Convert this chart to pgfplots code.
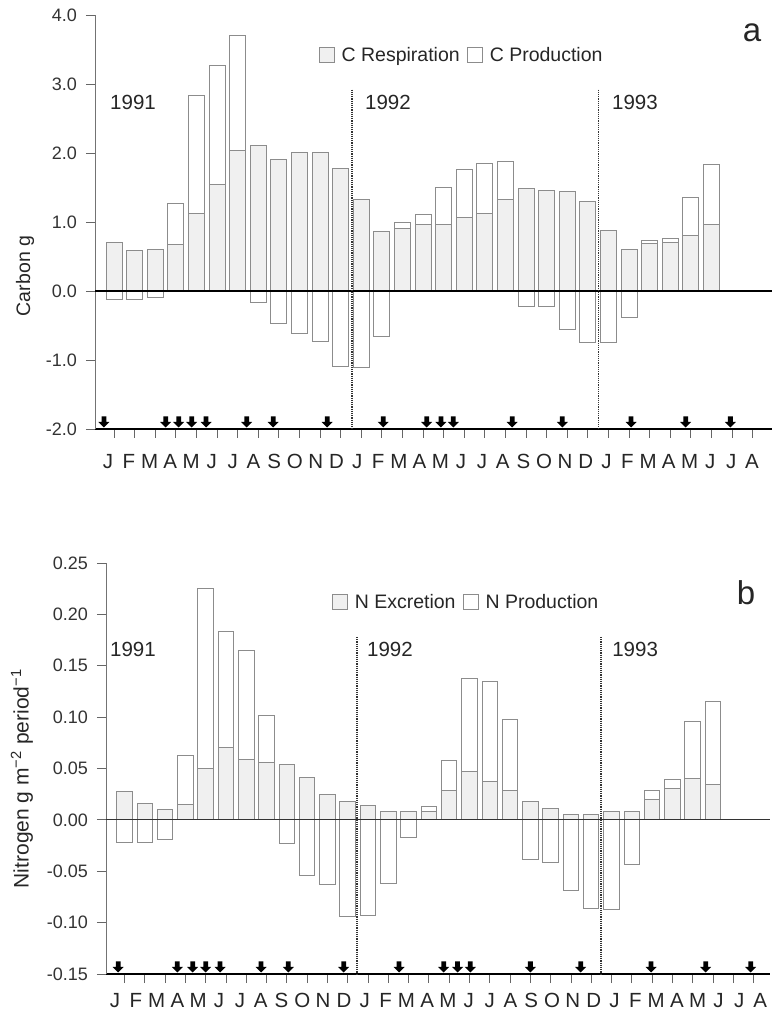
\documentclass[border=0pt]{standalone}
\usepackage{fontspec}
\setmainfont{Liberation Sans}
\usepackage{pgfplots}
\pgfplotsset{compat=1.18}
\usepackage{pgfplotstable}

\pgfdeclareplotmark{darrow}{%
  \pgfpathmoveto{\pgfpoint{0pt}{1.5pt}}%
  \pgfpathlineto{\pgfpoint{5.5pt}{7pt}}%
  \pgfpathlineto{\pgfpoint{2.4pt}{7pt}}%
  \pgfpathlineto{\pgfpoint{2.4pt}{12.5pt}}%
  \pgfpathlineto{\pgfpoint{-2.4pt}{12.5pt}}%
  \pgfpathlineto{\pgfpoint{-2.4pt}{7pt}}%
  \pgfpathlineto{\pgfpoint{-5.5pt}{7pt}}%
  \pgfpathclose\pgfusepathqfill}

% x = period index, R = respiration (stippled), T = outer edge of production bar
\pgfplotstableread{
x R T
0 0.71 -0.12
1 0.58 -0.12
2 0.60 -0.09
3 0.67 1.27
4 1.12 2.84
5 1.55 3.27
6 2.04 3.70
7 2.11 -0.16
8 1.90 -0.47
9 2.01 -0.61
10 2.01 -0.73
11 1.78 -1.10
12 1.33 -1.11
13 0.86 -0.66
14 0.91 0.99
15 0.96 1.11
16 0.96 1.50
17 1.06 1.76
18 1.13 1.85
19 1.33 1.87
20 1.49 -0.22
21 1.45 -0.23
22 1.44 -0.56
23 1.30 -0.75
24 0.87 -0.75
25 0.60 -0.38
26 0.69 0.73
27 0.70 0.76
28 0.81 1.36
29 0.97 1.83
}\carbon

\pgfplotstableread{
x R T
0 0.0276 -0.022
1 0.0156 -0.022
2 0.0104 -0.019
3 0.0146 0.0626
4 0.050 0.225
5 0.0708 0.183
6 0.0587 0.165
7 0.0558 0.102
8 0.0542 -0.023
9 0.0415 -0.054
10 0.0247 -0.063
11 0.0178 -0.094
12 0.0136 -0.093
13 0.008 -0.062
14 0.008 -0.017
15 0.008 0.013
16 0.0286 0.058
17 0.0467 0.138
18 0.0373 0.135
19 0.0282 0.098
20 0.0178 -0.039
21 0.0107 -0.041
22 0.0049 -0.069
23 0.0055 -0.086
24 0.0081 -0.087
25 0.008 -0.043
26 0.0195 0.0286
27 0.031 0.0396
28 0.0406 0.0957
29 0.034 0.115
}\nitro

\pgfplotsset{
  mypanel/.style={
    scale only axis, clip=false,
    axis lines=left, axis line style={-},
    x axis line style={black, line width=1.2pt},
    y axis line style={black!55, line width=1pt},
    tick align=outside, major tick length=9pt,
    every tick/.style={black!60, line width=0.8pt},
    xtick={0,...,31}, xticklabels={},
    minor tick num=0,
    extra x tick labels={J,F,M,A,M,J,J,A,S,O,N,D,J,F,M,A,M,J,J,A,S,O,N,D,J,F,M,A,M,J,J,A},
    yticklabel style={font=\fontsize{18}{18}\selectfont, text=black!80, inner sep=0pt, anchor=east, xshift=-9pt},
    ylabel style={text=black!85, anchor=center},
    legend columns=2,
    legend style={draw=none, fill=none, inner sep=0pt,
      font=\fontsize{19.5}{20}\selectfont,
      nodes={inner sep=1.5pt, text=black!85},
      /tikz/every odd column/.append style={column sep=5pt},
      /tikz/every even column/.append style={column sep=6pt}},
  },
  resp/.style={ybar, bar shift=0pt, draw=black!45, fill=black!6, line width=1pt,
    legend image code/.code={\draw[draw=black!45, fill=black!6, line width=1pt] (0pt,-7.5pt) rectangle (15pt,7.5pt);}},
  prod/.style={ybar, bar shift=0pt, draw=black!45, fill=none, line width=1pt,
    legend image code/.code={\draw[draw=black!45, fill=white, line width=1pt] (0pt,-7.5pt) rectangle (15pt,7.5pt);}},
}

\begin{document}
\begin{tikzpicture}
\path[use as bounding box] (0pt,0pt) rectangle (776pt,1011pt);

% ---------------- panel a ----------------
\begin{axis}[mypanel,
  at={(95pt,582pt)}, anchor=south west, width=677pt, height=414pt,
  xmin=-0.9223, xmax=31.942, ymin=-2, ymax=4,
  ytick={-2,-1,0,1,2,3,4},
  yticklabels={-2.0,-1.0,0.0,1.0,2.0,3.0,4.0},
  extra x ticks={-0.291,0.7173,...,31.05},
  extra x tick style={major tick length=0pt,
    xticklabel style={font=\fontsize{20.5}{20.5}\selectfont, text=black!85, anchor=north, inner sep=0pt, text height=14.8pt, text depth=0pt, yshift=-24.5pt}},
  ylabel={Carbon g},
  ylabel style={at={(rel axis cs:-0.1034,0.3696)}, font=\fontsize{19.5}{19.5}\selectfont},
  legend style={at={(axis cs:9.95,3.42)}, anchor=west},
]
\addplot[resp, bar width=16pt] table[x=x, y=R]{\carbon};
\addlegendentry{C Respiration}
\addplot[prod, bar width=16pt] table[x=x, y=T]{\carbon};
\addlegendentry{C Production}
\addplot[black, line width=1.2pt, forget plot] coordinates {(-0.9223,0) (31.942,0)};
\addplot[black!80, densely dotted, line width=1.2pt, forget plot] coordinates {(11.55,2.92) (11.55,-2)};
\addplot[black!80, densely dotted, line width=1.2pt, forget plot] coordinates {(23.50,2.92) (23.50,-2)};
\addplot[only marks, mark=darrow, black, forget plot] coordinates {
  (-0.49,-2) (2.51,-2) (3.14,-2) (3.77,-2) (4.47,-2) (6.44,-2) (7.73,-2) (10.35,-2)
  (13.07,-2) (15.18,-2) (15.87,-2) (16.47,-2) (19.33,-2) (21.76,-2) (25.10,-2) (27.75,-2) (29.92,-2)};
\node[anchor=west, font=\fontsize{20.5}{20.5}\selectfont, text=black!85, inner sep=0pt] at (axis cs:-0.194,2.73) {1991};
\node[anchor=west, font=\fontsize{20.5}{20.5}\selectfont, text=black!85, inner sep=0pt] at (axis cs:12.18,2.73) {1992};
\node[anchor=west, font=\fontsize{20.5}{20.5}\selectfont, text=black!85, inner sep=0pt] at (axis cs:24.17,2.73) {1993};
\node[font=\fontsize{33}{33}\selectfont, text=black!85, inner sep=0pt] at (axis cs:30.97,3.74) {a};
\end{axis}

% ---------------- panel b ----------------
\begin{axis}[mypanel,
  at={(106pt,37pt)}, anchor=south west, width=664pt, height=411pt,
  xmin=-0.912, xmax=31.81, ymin=-0.15, ymax=0.25,
  ytick={-0.15,-0.10,-0.05,0,0.05,0.10,0.15,0.20,0.25},
  yticklabels={-0.15,-0.10,-0.05,0.00,0.05,0.10,0.15,0.20,0.25},
  extra x ticks={-0.468,0.5576,...,31.4},
  extra x tick style={major tick length=0pt,
    xticklabel style={font=\fontsize{20.5}{20.5}\selectfont, text=black!85, anchor=north, inner sep=0pt, text height=14.8pt, text depth=0pt, yshift=-18pt}},
  ylabel={Nitrogen g m\textsuperscript{−2} period\textsuperscript{−1}},
  ylabel style={at={(rel axis cs:-0.1265,0.475)}, font=\fontsize{21}{21}\selectfont},
  legend style={at={(axis cs:10.23,0.212)}, anchor=west},
]
\addplot[resp, bar width=15.5pt] table[x=x, y=R]{\nitro};
\addlegendentry{N Excretion}
\addplot[prod, bar width=15.5pt] table[x=x, y=T]{\nitro};
\addlegendentry{N Production}
\addplot[black!80, line width=1.2pt, forget plot] coordinates {(-0.912,0) (31.81,0)};
\addplot[black!80, densely dotted, line width=1.2pt, forget plot] coordinates {(11.46,0.178) (11.46,-0.15)};
\addplot[black!80, densely dotted, line width=1.2pt, forget plot] coordinates {(23.48,0.178) (23.48,-0.15)};
\addplot[only marks, mark=darrow, black, forget plot] coordinates {
  (-0.31,-0.15) (2.60,-0.15) (3.36,-0.15) (4.00,-0.15) (4.71,-0.15) (6.73,-0.15) (8.07,-0.15) (10.80,-0.15)
  (13.53,-0.15) (15.73,-0.15) (16.41,-0.15) (17.04,-0.15) (20.00,-0.15) (22.48,-0.15) (25.95,-0.15) (28.64,-0.15) (30.86,-0.15)};
\node[anchor=west, font=\fontsize{20.5}{20.5}\selectfont, text=black!85, inner sep=0pt] at (axis cs:-0.715,0.166) {1991};
\node[anchor=west, font=\fontsize{20.5}{20.5}\selectfont, text=black!85, inner sep=0pt] at (axis cs:11.95,0.166) {1992};
\node[anchor=west, font=\fontsize{20.5}{20.5}\selectfont, text=black!85, inner sep=0pt] at (axis cs:24.03,0.166) {1993};
\node[font=\fontsize{33}{33}\selectfont, text=black!85, inner sep=0pt] at (axis cs:30.63,0.221) {b};
\end{axis}
\end{tikzpicture}
\end{document}
